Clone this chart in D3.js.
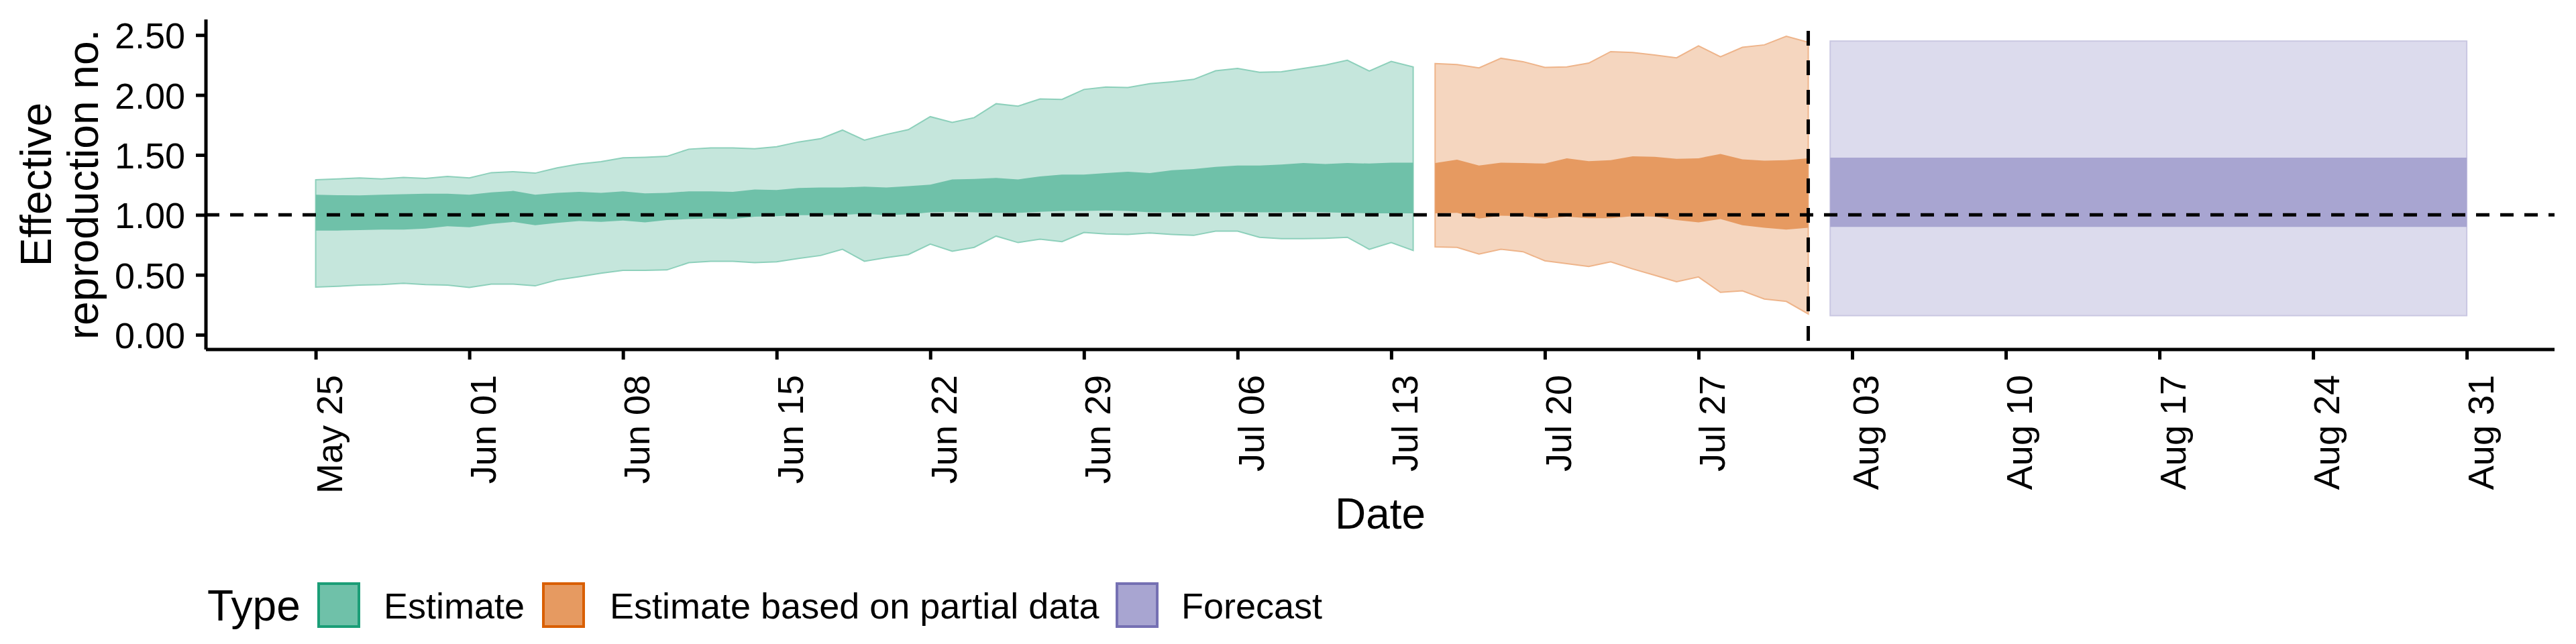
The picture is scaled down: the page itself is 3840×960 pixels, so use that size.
<!DOCTYPE html>
<html><head><meta charset="utf-8">
<script src="https://cdn.jsdelivr.net/npm/d3@7"></script>
<style>body{margin:0;background:#fff}svg{font-family:"Liberation Sans",Arial,sans-serif}</style>
</head><body>
<svg id="c" width="3840" height="960"></svg>
<script>
const startDate = "2020-05-25";
const estUpper90 = [1.292,1.300,1.308,1.300,1.312,1.304,1.320,1.308,1.352,1.360,1.348,1.392,1.424,1.444,1.476,1.480,1.488,1.548,1.558,1.558,1.552,1.568,1.608,1.635,1.707,1.623,
 1.671,1.711,1.819,1.771,1.811,1.927,1.907,1.967,1.963,2.046,2.066,2.062,2.094,2.110,2.130,2.202,2.222,2.190,2.194,2.222,2.250,2.290,2.200,2.280,2.234];
const estLower90 = [0.398,0.404,0.414,0.418,0.430,0.418,0.414,0.394,0.422,0.422,0.408,0.458,0.484,0.514,0.537,0.537,0.541,0.601,0.613,0.613,0.601,0.609,0.637,0.661,0.713,0.613,
 0.643,0.669,0.757,0.697,0.729,0.823,0.769,0.797,0.777,0.853,0.841,0.837,0.849,0.837,0.829,0.865,0.865,0.813,0.801,0.801,0.805,0.813,0.713,0.769,0.703];
const estUpper50 = [1.168,1.164,1.162,1.168,1.172,1.176,1.176,1.168,1.188,1.200,1.168,1.184,1.192,1.184,1.196,1.180,1.184,1.196,1.196,1.192,1.212,1.208,1.224,1.228,1.228,1.236,
 1.228,1.240,1.252,1.296,1.300,1.308,1.296,1.320,1.336,1.336,1.348,1.360,1.348,1.372,1.382,1.400,1.412,1.412,1.420,1.432,1.424,1.432,1.428,1.436,1.436];
const estLower50 = [0.869,0.869,0.873,0.877,0.877,0.885,0.905,0.897,0.925,0.941,0.913,0.933,0.949,0.941,0.953,0.937,0.957,0.965,0.969,0.965,0.985,0.989,0.997,0.997,1.001,1.009,
 0.997,1.005,1.021,1.025,1.021,1.017,1.017,1.025,1.033,1.033,1.037,1.033,1.021,1.021,1.021,1.021,1.025,1.021,1.021,1.025,1.021,1.017,1.013,1.013,1.013];
const partStart = 51;
const partUpper90 = [2.262,2.254,2.226,2.306,2.278,2.230,2.234,2.266,2.362,2.354,2.334,2.310,2.410,2.318,2.398,2.418,2.490,2.440];
const partLower90 = [0.733,0.729,0.673,0.713,0.693,0.617,0.593,0.569,0.609,0.549,0.497,0.442,0.482,0.354,0.366,0.298,0.278,0.174];
const partUpper50 = [1.432,1.460,1.412,1.436,1.432,1.428,1.472,1.448,1.456,1.488,1.484,1.468,1.472,1.508,1.464,1.452,1.456,1.472];
const partLower50 = [1.013,1.017,0.969,0.993,0.989,0.969,0.985,0.973,0.973,0.989,0.985,0.957,0.937,0.965,0.913,0.893,0.877,0.893];
const foreStart = 69, foreEnd = 98;
const foreBand = {lower90:0.16, upper90:2.45, lower50:0.90, upper50:1.478};
const cutDay = 68;
const yTicks = [0,0.5,1,1.5,2,2.5];
const xTickLabels = ["May 25","Jun 01","Jun 08","Jun 15","Jun 22","Jun 29","Jul 06","Jul 13","Jul 20","Jul 27","Aug 03","Aug 10","Aug 17","Aug 24","Aug 31"];
const types = ["Estimate","Estimate based on partial data","Forecast"];
const colOuter = ["#c5e6dc","#f5d6bf","#dcdbed"], colInner=["#6fc1a9","#e69a61","#a8a5d1"], colLine=["#1b9e77","#d95f02","#7570b3"], colEdge=["#8dd0bb","#eeb48a","#c9c7e2"];

const t0 = new Date(startDate+"T00:00:00Z");
const day = i => d3.utcDay.offset(t0, i);
const svg = d3.select("#c");
const L=307,R=3808,T=29,B=521;
const x = d3.scaleUtc().domain([day(-4.9), day(98+4.9)]).range([L,R]);
const y = d3.scaleLinear().domain([-0.123,2.63]).range([B,T]);

function band(vals, lo, hi, off, fill, edge){
  const data = lo.map((v,i)=>({d:day(off+i), lo:v, hi:hi[i]}));
  svg.append("path").datum(data).attr("fill",fill).attr("stroke",edge||"none").attr("stroke-width",2)
    .attr("d", d3.area().x(d=>x(d.d)).y0(d=>y(d.lo)).y1(d=>y(d.hi)));
}
band(null, estLower90, estUpper90, 0, colOuter[0], colEdge[0]);
band(null, estLower50, estUpper50, 0, colInner[0]);
band(null, partLower90, partUpper90, partStart, colOuter[1], colEdge[1]);
band(null, partLower50, partUpper50, partStart, colInner[1]);
const fd = d3.range(foreStart, foreEnd+1);
band(null, fd.map(()=>foreBand.lower90), fd.map(()=>foreBand.upper90), foreStart, colOuter[2], colEdge[2]);
band(null, fd.map(()=>foreBand.lower50), fd.map(()=>foreBand.upper50), foreStart, colInner[2]);

svg.append("line").attr("x1",L).attr("x2",R).attr("y1",y(1)).attr("y2",y(1)).attr("stroke","#000").attr("stroke-width",5).attr("stroke-dasharray","20,16");
svg.append("line").attr("x1",x(day(cutDay))).attr("x2",x(day(cutDay))).attr("y1",46).attr("y2",B).attr("stroke","#000").attr("stroke-width",5).attr("stroke-dasharray","22,22");

const ya = svg.append("g").attr("transform",`translate(${L},0)`).call(d3.axisLeft(y).tickValues(yTicks).tickFormat(d3.format(".2f")).tickSize(15).tickPadding(16));
ya.select(".domain").attr("d",`M0,${T}V${B}`);
const xTickDates = xTickLabels.map((_,i)=>day(i*7));
const xa = svg.append("g").attr("transform",`translate(0,${B})`).call(d3.axisBottom(x).tickValues(xTickDates).tickFormat((d,i)=>xTickLabels[i]).tickSize(15));
xa.select(".domain").attr("d",`M${L},0H${R}`);
[ya,xa].forEach(a=>{a.selectAll("path,line").attr("stroke","#000").attr("stroke-width",5);a.selectAll("text").attr("font-size",54).attr("fill","#000").attr("font-family","Liberation Sans, Arial, sans-serif");});
xa.selectAll("text").attr("transform","rotate(-90)").attr("text-anchor","end").attr("x",-38).attr("y",0).attr("dy","0.72em");
ya.selectAll("text").attr("dy","0.36em");

svg.append("text").attr("transform","rotate(-90)").attr("x",-275).attr("y",76).attr("text-anchor","middle").attr("font-size",64).text("Effective");
svg.append("text").attr("transform","rotate(-90)").attr("x",-275).attr("y",146).attr("text-anchor","middle").attr("font-size",64).text("reproduction no.");
svg.append("text").attr("x",(L+R)/2).attr("y",788).attr("text-anchor","middle").attr("font-size",64).text("Date");

svg.append("text").attr("x",309).attr("y",925).attr("font-size",64).text("Type");
const keyX=[473,808,1663], txtX=[572,909,1761];
types.forEach((t,i)=>{
  svg.append("rect").attr("x",keyX[i]+2).attr("y",870).attr("width",60).attr("height",64).attr("fill",colInner[i]).attr("stroke",colLine[i]).attr("stroke-width",4);
  svg.append("text").attr("x",txtX[i]).attr("y",922).attr("font-size",54).text(t);
});
</script></body></html>
